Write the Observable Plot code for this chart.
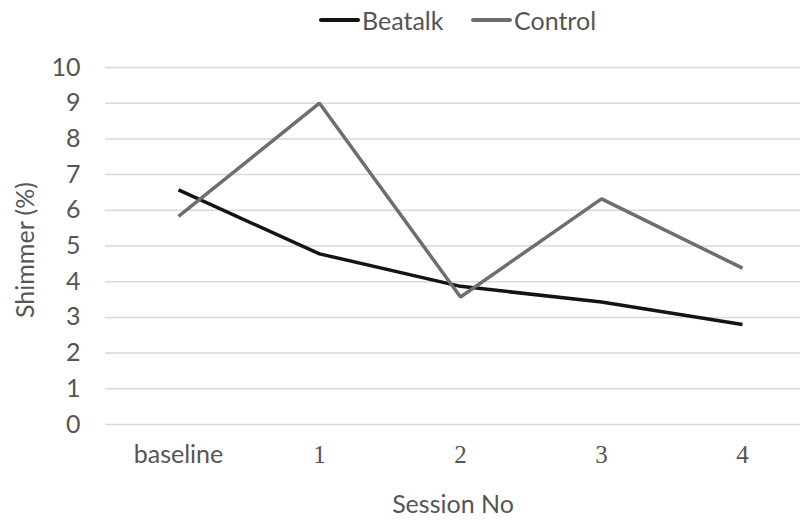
<!DOCTYPE html>
<html>
<head>
<meta charset="utf-8">
<script src="https://cdn.jsdelivr.net/npm/d3@7"></script>
<script src="https://cdn.jsdelivr.net/npm/@observablehq/plot@0.6"></script>
<style>
  html, body { margin: 0; padding: 0; background: #fff; overflow: hidden; }
  #wrap { position: relative; width: 800px; height: 525px; }
  #legend { position: absolute; top: 5px; left: 0; width: 800px; height: 30px;
            font-family: Lato, "Open Sans", sans-serif; font-size: 25px; color: #555; }
  .item { position: absolute; top: 0; display: flex; align-items: center; height: 30px; }
  .sw { width: 41px; height: 4px; border-radius: 2px; margin-right: 2px; }
</style>
</head>
<body>
<div id="wrap">
  <div id="chart"></div>
  <div id="legend"></div>
</div>
<script>
const sessions = ["baseline", "1", "2", "3", "4"];
const beatalk = [6.57, 4.78, 3.87, 3.43, 2.8];
const control = [5.83, 9.0, 3.57, 6.32, 4.38];
const seriesNames = ["Beatalk", "Control"];
const seriesColors = ["#141414", "#6e6e6e"];
const yTicks = [0, 1, 2, 3, 4, 5, 6, 7, 8, 9, 10];

const data = [];
sessions.forEach((s, i) => {
  data.push({session: s, series: "Beatalk", value: beatalk[i]});
  data.push({session: s, series: "Control", value: control[i]});
});

const sans = "Lato, 'Open Sans', sans-serif";
const serif = "'Liberation Serif', 'DejaVu Serif', serif";
const fs = 25;

const chart = Plot.plot({
  width: 800,
  height: 525,
  marginTop: 67,
  marginBottom: 101,
  marginLeft: 105,
  marginRight: 0,
  style: {fontFamily: sans, color: "#555", background: "#fff"},
  x: {type: "point", domain: sessions, range: [177, 742], padding: 0, axis: null},
  y: {domain: [0, 10], axis: null},
  color: {domain: seriesNames, range: seriesColors},
  marks: [
    Plot.ruleY(yTicks, {stroke: "#d9d9d9", strokeWidth: 1.5}),
    Plot.text(yTicks, {y: d => d, text: d => String(d), frameAnchor: "left", textAnchor: "end",
      dx: -25, fontSize: fs, fill: "#555", fontFamily: sans}),
    Plot.line(data, {x: "session", y: "value", z: "series", stroke: "series", strokeWidth: 3.5,
      strokeLinejoin: "miter", strokeLinecap: "butt"}),
    Plot.text(sessions.filter(s => s === "baseline"), {x: d => d, text: d => d, frameAnchor: "bottom",
      dy: 38, fontSize: fs, fill: "#555", fontFamily: sans}),
    Plot.text(sessions.filter(s => s !== "baseline"), {x: d => d, text: d => d, frameAnchor: "bottom",
      dy: 38, fontSize: fs, fill: "#555", fontFamily: serif}),
    Plot.text(["Session No"], {frameAnchor: "bottom", dy: 88, fontSize: fs, fill: "#555", fontFamily: sans}),
    Plot.text(["Shimmer (%)"], {frameAnchor: "left", textAnchor: "middle", dx: -80, dy: 4, rotate: -90,
      fontSize: fs, fill: "#555", fontFamily: sans})
  ]
});
document.getElementById("chart").appendChild(chart);

const legend = document.getElementById("legend");
const legendX = [319, 471];
seriesNames.forEach((name, i) => {
  const item = document.createElement("div");
  item.className = "item";
  item.style.left = legendX[i] + "px";
  const sw = document.createElement("div");
  sw.className = "sw";
  sw.style.background = seriesColors[i];
  const label = document.createElement("span");
  label.textContent = name;
  item.appendChild(sw);
  item.appendChild(label);
  legend.appendChild(item);
});
</script>
</body>
</html>
